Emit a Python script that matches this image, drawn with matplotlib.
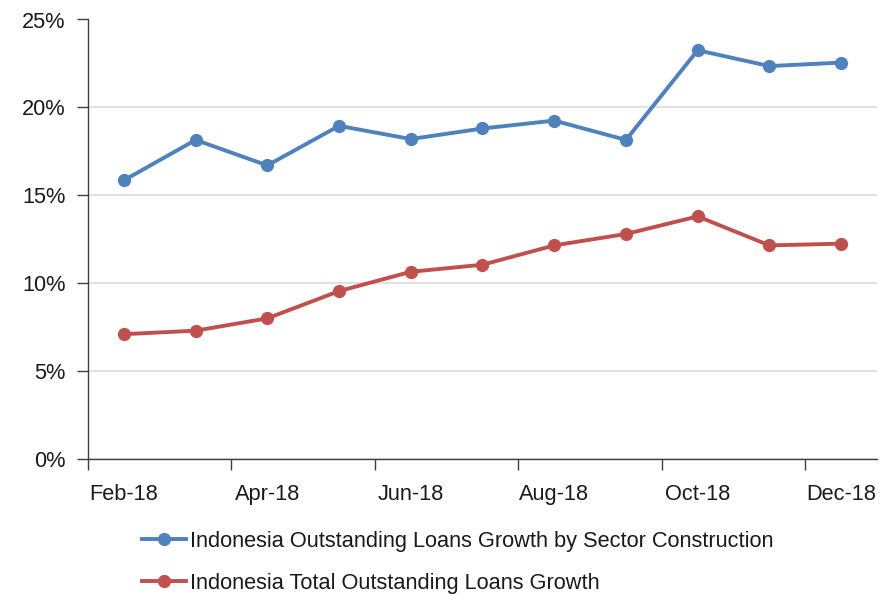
import matplotlib
matplotlib.use("Agg")
import matplotlib.pyplot as plt
from matplotlib.ticker import FuncFormatter, FixedLocator
import numpy as np

months = ["Feb-18", "Mar-18", "Apr-18", "May-18", "Jun-18", "Jul-18",
          "Aug-18", "Sep-18", "Oct-18", "Nov-18", "Dec-18"]
construction = [15.85, 18.15, 16.7, 18.95, 18.2, 18.8, 19.25, 18.15, 23.25, 22.35, 22.55]
total = [7.1, 7.3, 8.0, 9.55, 10.65, 11.05, 12.15, 12.8, 13.8, 12.15, 12.25]
series_names = ["Indonesia Outstanding Loans Growth by Sector Construction",
                "Indonesia Total Outstanding Loans Growth"]

plt.rcParams["font.family"] = ["Liberation Sans", "DejaVu Sans"]
FS = 15.7

fig = plt.figure(figsize=(8.95, 5.95), dpi=100)
W, H = 895, 595
ax = fig.add_axes([88 / W, 1 - 459 / H, (877 - 88) / W, (459 - 19.5) / H])

x = np.arange(len(months)) + 0.5
blue, red = "#4F81BD", "#C0504D"
ax.plot(x, construction, color=blue, lw=2.8, marker="o", ms=8.5, label=series_names[0])
ax.plot(x, total, color=red, lw=2.8, marker="o", ms=8.5, label=series_names[1])

ax.set_xlim(0, len(months))
ax.set_ylim(0, 25)
ax.set_yticks(np.arange(0, 26, 5))
ax.yaxis.set_major_formatter(FuncFormatter(lambda v, p: f"{v:.0f}%"))
ax.grid(axis="y", color="#D9D9D9", lw=1.1)
ax.set_axisbelow(True)

# category boundaries every two months, labels centered on the points
ax.xaxis.set_major_locator(FixedLocator(np.arange(0, len(months) + 1, 2)))
ax.set_xticklabels([])
ax.xaxis.set_minor_locator(FixedLocator(x[::2]))
ax.set_xticklabels(months[::2], minor=True)
ax.tick_params(axis="x", which="major", length=8, width=1, color="#404040", direction="out")
ax.tick_params(axis="x", which="minor", length=0, pad=18, labelsize=FS, labelcolor="#1a1a1a")
ax.tick_params(axis="y", length=8, width=1, color="#404040", labelsize=FS,
               pad=8, labelcolor="#1a1a1a")

for s in ["top", "right"]:
    ax.spines[s].set_visible(False)
for s in ["left", "bottom"]:
    ax.spines[s].set_color("#404040")
    ax.spines[s].set_linewidth(1)

fig.legend(loc="upper left", bbox_to_anchor=(142 / W, 1 - 531 / H), frameon=False,
           fontsize=FS, handlelength=2.0, handletextpad=0.2, labelspacing=0.95,
           borderpad=0, borderaxespad=0, labelcolor="#1a1a1a")

fig.savefig("out.png", dpi=100)
